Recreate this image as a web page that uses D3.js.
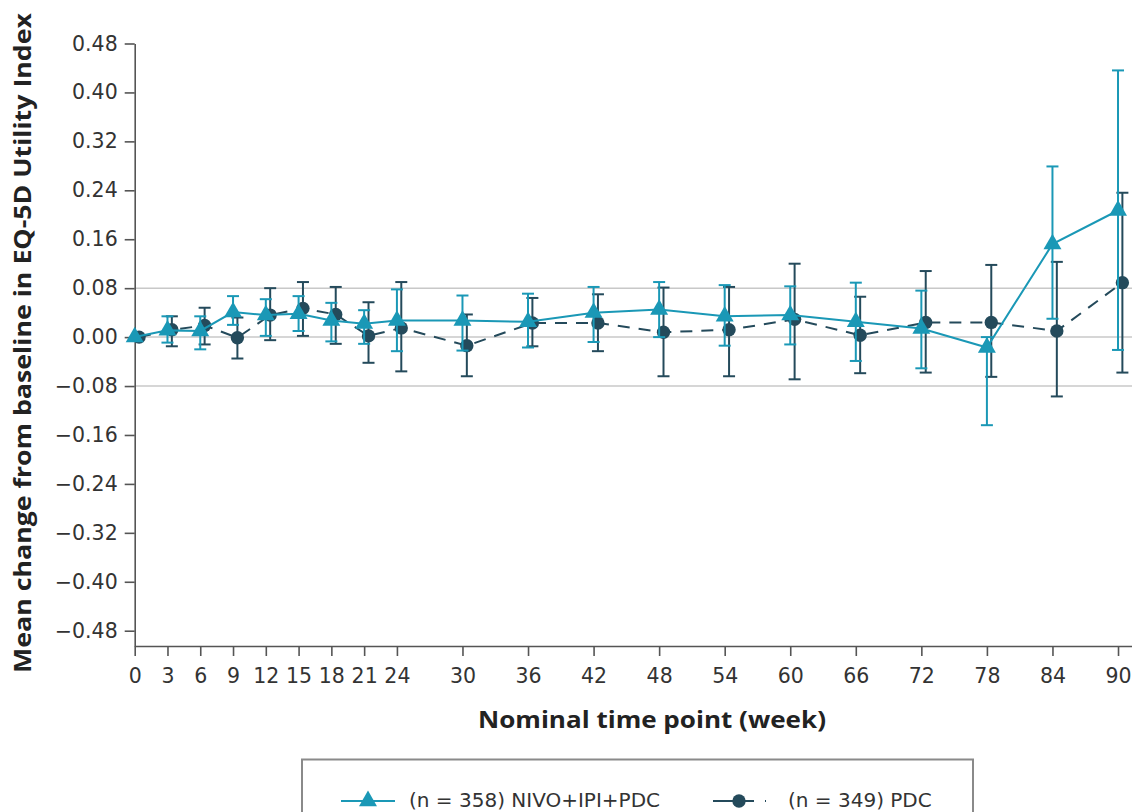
<!DOCTYPE html>
<html>
<head>
<meta charset="utf-8">
<script src="https://cdn.jsdelivr.net/npm/d3@7"></script>
<style>
  body { margin: 0; background: #fff; }
  svg { display: block; font-family: "DejaVu Sans", "Open Sans", sans-serif; }
  .tick text { fill: #333; font-size: 20.5px; font-family: "DejaVu Sans", sans-serif; }
  .tick line, .domain { stroke: #555; stroke-width: 1.6px; }
  .title { font-family: "Open Sans", sans-serif; font-weight: bold; fill: #222; }
</style>
</head>
<body>
<script>
var weeks = [0, 3, 6, 9, 12, 15, 18, 21, 24, 30, 36, 42, 48, 54, 60, 66, 72, 78, 84, 90];

// NIVO+IPI+PDC
var nivoMean = [0.000, 0.011, 0.010, 0.041, 0.036, 0.038, 0.027, 0.022, 0.027, 0.027, 0.025, 0.040, 0.045, 0.034, 0.036, 0.025, 0.014, -0.017, 0.152, 0.207];
var nivoLow  = [null, -0.009, -0.020, 0.020, 0.002, 0.010, -0.007, -0.011, -0.023, -0.022, -0.017, -0.008, 0.000, -0.014, -0.012, -0.039, -0.051, -0.144, 0.030, -0.021];
var nivoHigh = [null, 0.034, 0.034, 0.067, 0.062, 0.067, 0.056, 0.044, 0.078, 0.068, 0.071, 0.082, 0.090, 0.085, 0.083, 0.089, 0.076, 0.000, 0.279, 0.436];

// PDC
var pdcMean = [0.000, 0.012, 0.019, -0.001, 0.036, 0.047, 0.037, 0.002, 0.015, -0.014, 0.023, 0.023, 0.008, 0.012, 0.029, 0.003, 0.024, 0.024, 0.010, 0.089];
var pdcLow  = [null, -0.015, -0.012, -0.035, -0.005, 0.002, -0.011, -0.042, -0.056, -0.064, -0.015, -0.023, -0.064, -0.064, -0.069, -0.059, -0.058, -0.065, -0.097, -0.058];
var pdcHigh = [null, 0.034, 0.048, 0.032, 0.080, 0.090, 0.082, 0.057, 0.090, 0.037, 0.064, 0.070, 0.081, 0.082, 0.120, 0.066, 0.108, 0.118, 0.123, 0.236];

var yTicks = [0.48, 0.40, 0.32, 0.24, 0.16, 0.08, 0.00, -0.08, -0.16, -0.24, -0.32, -0.40, -0.48];
var gridVals = [0.08, 0.00, -0.08];

var nivoLabel = "(n = 358) NIVO+IPI+PDC",
    pdcLabel = "(n = 349) PDC";

var teal = "#1a98b6", dark = "#244a5b";
var width = 1132, height = 812;
var dodge = 0.4; // PDC points sit slightly right of the nominal week

var svg = d3.select("body").append("svg")
    .attr("width", width)
    .attr("height", height);

var x = d3.scaleLinear().domain([0, 91.28]).range([134.7, 1132]);
var y = d3.scaleLinear().domain([-0.505, 0.48]).range([646, 43.5]);

function fmt(v) {
  var s = Math.abs(v).toFixed(2);
  return v < 0 ? "\u2212" + s : s;
}

// grid
svg.append("g").selectAll("line")
    .data(gridVals)
  .enter().append("line")
    .attr("x1", x(0)).attr("x2", width)
    .attr("y1", function(d) { return y(d); })
    .attr("y2", function(d) { return y(d); })
    .attr("stroke", "#c8c8c8")
    .attr("stroke-width", 1.5);

// axes
svg.append("g")
    .attr("transform", "translate(" + x(0) + ",0)")
    .call(d3.axisLeft(y).tickValues(yTicks).tickFormat(fmt).tickSize(10).tickPadding(7).tickSizeOuter(0));

svg.append("g")
    .attr("transform", "translate(0," + y(-0.505) + ")")
    .call(d3.axisBottom(x).tickValues(weeks).tickSize(10).tickPadding(12).tickSizeOuter(0));

// axis titles
svg.append("text")
    .attr("class", "title")
    .attr("transform", "translate(31,343) rotate(-90)")
    .attr("text-anchor", "middle")
    .attr("font-size", 24)
    .attr("textLength", 660)
    .attr("lengthAdjust", "spacingAndGlyphs")
    .text("Mean change from baseline in EQ-5D Utility Index");

svg.append("text")
    .attr("class", "title")
    .attr("x", 652).attr("y", 728)
    .attr("text-anchor", "middle")
    .attr("font-size", 24)
    .attr("textLength", 348)
    .attr("lengthAdjust", "spacingAndGlyphs")
    .text("Nominal time point (week)");

function rows(mean, low, high, off) {
  return weeks.map(function(w, i) {
    return {w: w + off, m: mean[i], lo: low[i], hi: high[i]};
  });
}

function drawSeries(data, color, dash, symbol, size) {
  var g = svg.append("g");
  var line = d3.line()
      .x(function(d) { return x(d.w); })
      .y(function(d) { return y(d.m); });

  var bars = g.selectAll(".err")
      .data(data.filter(function(d) { return d.lo != null; }))
    .enter().append("g")
      .attr("stroke", color)
      .attr("stroke-width", 2);
  bars.append("line")
      .attr("x1", function(d) { return x(d.w); })
      .attr("x2", function(d) { return x(d.w); })
      .attr("y1", function(d) { return y(d.lo); })
      .attr("y2", function(d) { return y(d.hi); });
  bars.append("line")
      .attr("x1", function(d) { return x(d.w) - 6; })
      .attr("x2", function(d) { return x(d.w) + 6; })
      .attr("y1", function(d) { return y(d.hi); })
      .attr("y2", function(d) { return y(d.hi); });
  bars.append("line")
      .attr("x1", function(d) { return x(d.w) - 6; })
      .attr("x2", function(d) { return x(d.w) + 6; })
      .attr("y1", function(d) { return y(d.lo); })
      .attr("y2", function(d) { return y(d.lo); });

  g.append("path")
      .datum(data)
      .attr("fill", "none")
      .attr("stroke", color)
      .attr("stroke-width", 2)
      .attr("stroke-dasharray", dash)
      .attr("d", line);

  g.selectAll(".pt")
      .data(data)
    .enter().append("path")
      .attr("transform", function(d) { return "translate(" + x(d.w) + "," + y(d.m) + ")"; })
      .attr("fill", color)
      .attr("d", d3.symbol().type(symbol).size(size));
}

drawSeries(rows(pdcMean, pdcLow, pdcHigh, dodge), dark, "12,9", d3.symbolCircle, 140);
drawSeries(rows(nivoMean, nivoLow, nivoHigh, 0), teal, null, d3.symbolTriangle, 140);

// legend
var lg = svg.append("g");
lg.append("rect")
    .attr("x", 302).attr("y", 759.5)
    .attr("width", 671).attr("height", 70)
    .attr("fill", "#fff")
    .attr("stroke", "#8a8a8a")
    .attr("stroke-width", 2);

lg.append("line")
    .attr("x1", 341).attr("x2", 395).attr("y1", 801).attr("y2", 801)
    .attr("stroke", teal).attr("stroke-width", 2);
lg.append("path")
    .attr("transform", "translate(368,801)")
    .attr("fill", teal)
    .attr("d", d3.symbol().type(d3.symbolTriangle).size(140));
lg.append("text")
    .attr("x", 409).attr("y", 807)
    .attr("font-size", 20).attr("fill", "#333")
    .text(nivoLabel);

lg.append("line")
    .attr("x1", 713).attr("x2", 766).attr("y1", 801).attr("y2", 801)
    .attr("stroke", dark).attr("stroke-width", 2)
    .attr("stroke-dasharray", "20,12,9,11,2,50");
lg.append("path")
    .attr("transform", "translate(739,801)")
    .attr("fill", dark)
    .attr("d", d3.symbol().type(d3.symbolCircle).size(140));
lg.append("text")
    .attr("x", 788).attr("y", 807)
    .attr("font-size", 20).attr("fill", "#333")
    .text(pdcLabel);
</script>
</body>
</html>
